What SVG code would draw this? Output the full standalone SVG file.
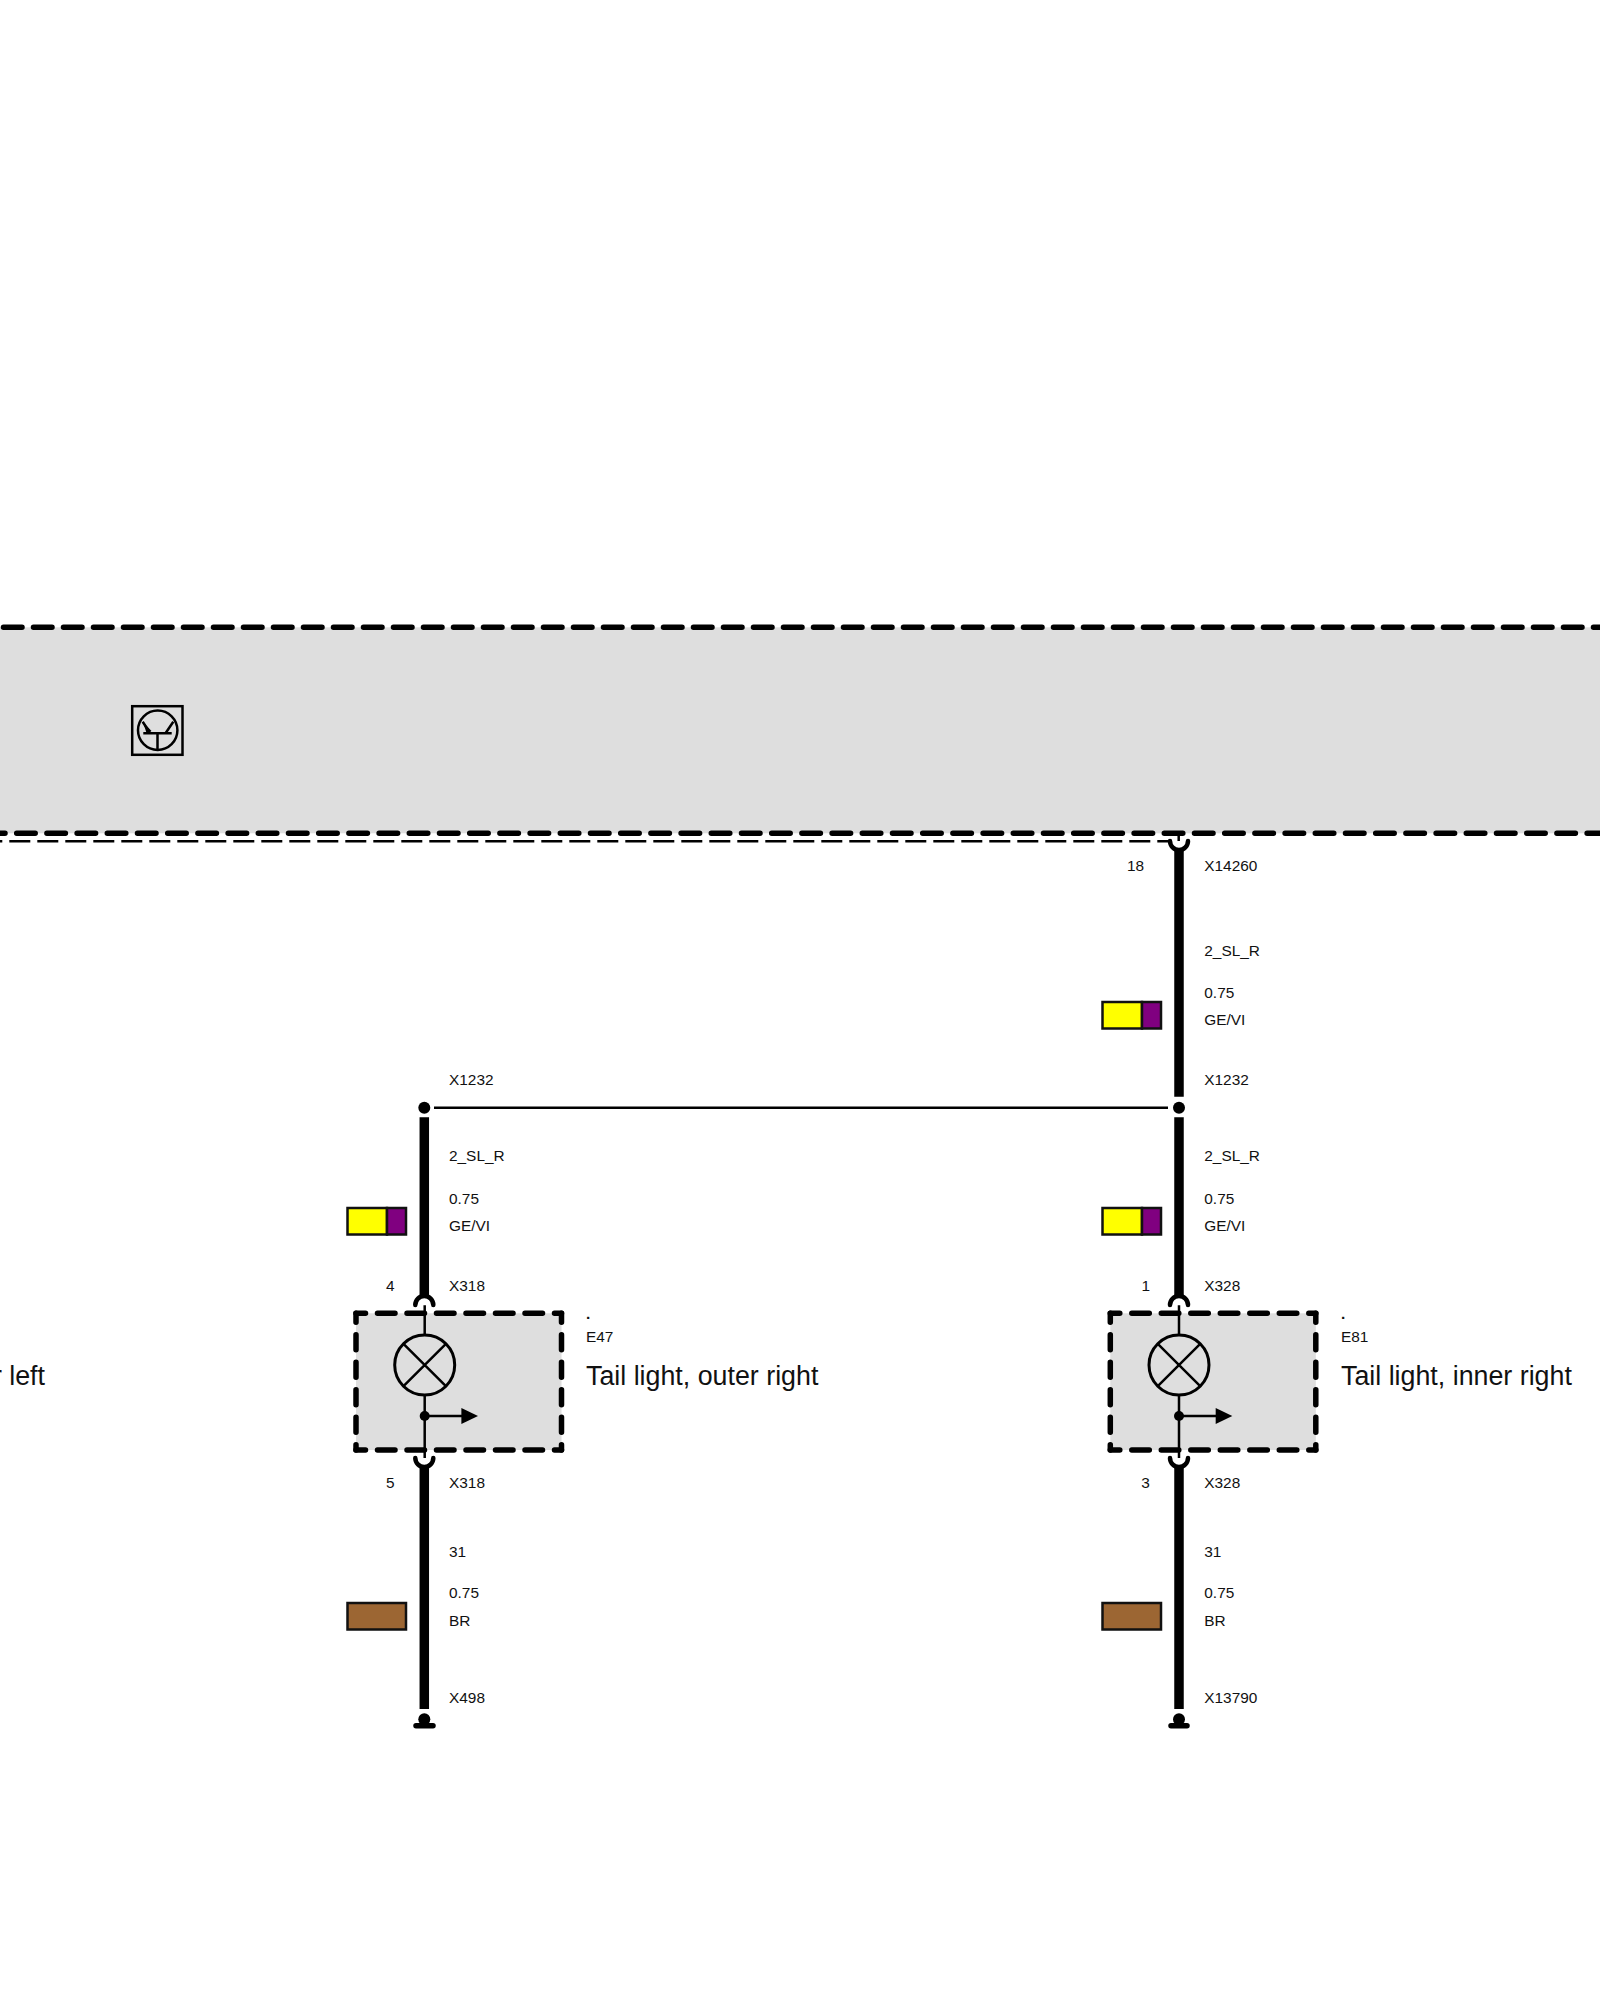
<svg xmlns="http://www.w3.org/2000/svg" width="1600" height="2000" viewBox="0 0 1600 2000">
<style>
text{font-family:"Liberation Sans",Arial,sans-serif;fill:#111}
.s{font-size:15.4px}
.l{font-size:26.8px}
.wire{stroke:#000;stroke-width:9.5;fill:none}
.thin{stroke:#000;stroke-width:2.5;fill:none}
.cup{stroke:#000;stroke-width:4.5;fill:none;stroke-linecap:round}
.bd{stroke:#000;stroke-width:5.5;fill:none;stroke-linecap:round}
.swatch{stroke:#111;stroke-width:2.5}
.ge{fill:#ffff00}.vi{fill:#800080}.br{fill:#9c6633}
</style>
<defs>
<g id="swGEVI"><rect class="swatch ge" x="0" y="0" width="39.5" height="26.5"/><rect class="swatch vi" x="39.5" y="0" width="19" height="26.5"/></g>
<rect id="swBR" class="swatch br" x="0" y="0" width="58.5" height="26.5"/>
<g id="device">
<rect x="0" y="0" width="205.5" height="136.7" fill="#dedede"/>
<path class="bd" stroke-dasharray="17.5 12" stroke-dashoffset="8" d="M0 0H205.5"/>
<path class="bd" stroke-dasharray="17.5 12" stroke-dashoffset="8" d="M0 136.7H205.5"/>
<path class="bd" stroke-dasharray="15 12.5" stroke-dashoffset="6" d="M0 0V136.7"/>
<path class="bd" stroke-dasharray="15 12.5" stroke-dashoffset="6" d="M205.5 0V136.7"/>
<path class="thin" d="M68.7 -8V21.7M68.7 81.7V144.7M68.7 102.7H106"/>
<circle class="thin" style="stroke-width:3" fill="none" cx="68.7" cy="51.7" r="30"/>
<path class="thin" d="M47.5 30.5L89.9 72.9M89.9 30.5L47.5 72.9"/>
<circle cx="68.7" cy="102.7" r="5"/>
<path d="M105.4 94.7L122 102.7L105.4 110.7Z"/>
</g>
</defs>
<g id="band">
<rect x="-5" y="627.3" width="1610" height="206" fill="#dedede"/>
<path class="bd" stroke-dasharray="18.5 11.5" d="M-26.5 627.3H1605"/>
<path class="bd" stroke-dasharray="18.5 11.7" d="M-13.5 833.3H1605"/>
<path class="thin" stroke-dasharray="21 7" d="M-18.7 841.3H1168"/>
<g id="transistor">
<rect class="thin" x="132.2" y="706.2" width="50.3" height="48.6"/>
<circle class="thin" cx="157.7" cy="730.3" r="19.7"/>
<path class="thin" d="M143.3 733.3H171.7M157.5 733.3V750M142.7 721.7L150 733M173.3 721.7L165.7 733"/>
<path d="M143 722L151.5 731L146.5 733Z"/>
</g>
</g>
<g id="connectors">
<path class="wire" d="M1179 848V1096.7M1179 1117.3V1297M1179 1465V1709"/>
<path class="wire" d="M424.3 1117.3V1297M424.3 1465V1709"/>
<path class="thin" d="M434 1107.7H1168"/>
<path class="thin" d="M1178.7 833V841"/>
<path class="cup" d="M1170 841A9 9 0 0 0 1188 841"/>
</g>
<g id="device-E47">
<use href="#device" x="356" y="1313.3"/>
<path class="cup" d="M415.3 1305A9 9 0 0 1 433.3 1305M415.3 1458A9 9 0 0 0 433.3 1458"/>
<text class="s" style="font-weight:bold" x="586" y="1318.5">.</text>
<text class="s" x="586" y="1341.6">E47</text>
<text class="l" x="586" y="1385.2">Tail light, outer right</text>
</g>
<g id="device-E81">
<use href="#device" x="1110.3" y="1313.3"/>
<path class="cup" d="M1170 1305A9 9 0 0 1 1188 1305M1170 1458A9 9 0 0 0 1188 1458"/>
<text class="s" style="font-weight:bold" x="1341" y="1318.5">.</text>
<text class="s" x="1341" y="1341.6">E81</text>
<text class="l" x="1341" y="1385.2">Tail light, inner right</text>
</g>
<g id="node-left-label"><text class="l" x="45" y="1385.2" text-anchor="end">r left</text></g>
<g id="junction-left"><circle cx="424.3" cy="1107.7" r="6"/></g>
<g id="junction-right"><circle cx="1179" cy="1107.7" r="6"/></g>
<g id="ground-X498"><circle cx="424.3" cy="1719.3" r="6"/><path d="M416 1725.7H433" stroke="#000" stroke-width="5.5" stroke-linecap="round"/></g>
<g id="ground-X13790"><circle cx="1179" cy="1719.3" r="6"/><path d="M1171 1725.7H1187" stroke="#000" stroke-width="5.5" stroke-linecap="round"/></g>
<g id="swatches">
<use href="#swGEVI" x="1102.5" y="1002"/>
<use href="#swGEVI" x="1102.5" y="1208"/>
<use href="#swGEVI" x="347.5" y="1208"/>
<use href="#swBR" x="1102.5" y="1603"/>
<use href="#swBR" x="347.5" y="1603"/>
</g>
<g id="labels" class="s">
<text class="s" x="1127" y="870.5">18</text>
<text class="s" x="1204.3" y="870.5">X14260</text>
<text class="s" x="1204.3" y="956">2_SL_R</text>
<text class="s" x="1204.3" y="998.3">0.75</text>
<text class="s" x="1204.3" y="1025">GE/VI</text>
<text class="s" x="1204.3" y="1085">X1232</text>
<text class="s" x="1204.3" y="1161.3">2_SL_R</text>
<text class="s" x="1204.3" y="1203.7">0.75</text>
<text class="s" x="1204.3" y="1230.7">GE/VI</text>
<text class="s" x="1141.5" y="1290.7">1</text>
<text class="s" x="1204.3" y="1290.7">X328</text>
<text class="s" x="1141.3" y="1487.7">3</text>
<text class="s" x="1204.3" y="1487.7">X328</text>
<text class="s" x="1204.3" y="1556.7">31</text>
<text class="s" x="1204.3" y="1597.7">0.75</text>
<text class="s" x="1204.3" y="1625.7">BR</text>
<text class="s" x="1204.3" y="1702.7">X13790</text>
<text class="s" x="449" y="1085">X1232</text>
<text class="s" x="449" y="1161.3">2_SL_R</text>
<text class="s" x="449" y="1203.7">0.75</text>
<text class="s" x="449" y="1230.7">GE/VI</text>
<text class="s" x="386" y="1290.7">4</text>
<text class="s" x="449" y="1290.7">X318</text>
<text class="s" x="386" y="1487.7">5</text>
<text class="s" x="449" y="1487.7">X318</text>
<text class="s" x="449" y="1556.7">31</text>
<text class="s" x="449" y="1597.7">0.75</text>
<text class="s" x="449" y="1625.7">BR</text>
<text class="s" x="449" y="1702.7">X498</text>
</g>
</svg>
